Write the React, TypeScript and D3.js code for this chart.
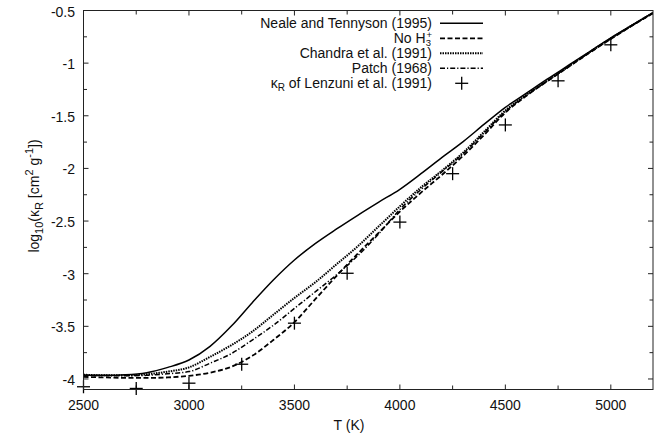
import React from "react";
import * as d3 from "d3";

const temps = [2500, 2600, 2700, 2800, 2900, 3000, 3100, 3200, 3300, 3400, 3500, 3600, 3700, 3800, 3900, 4000, 4100, 4200, 4300, 4400, 4500, 4600, 4700, 4800, 4900, 5000, 5100, 5200];

const nealeTennyson = [-3.965, -3.965, -3.96, -3.94, -3.89, -3.82, -3.69, -3.5, -3.275, -3.06, -2.87, -2.712, -2.575, -2.445, -2.32, -2.198, -2.05, -1.895, -1.745, -1.58, -1.42, -1.285, -1.15, -1.02, -0.89, -0.76, -0.64, -0.52];
const noH3 = [-3.98, -3.985, -3.99, -3.99, -3.985, -3.97, -3.94, -3.885, -3.78, -3.63, -3.46, -3.24, -3.02, -2.81, -2.61, -2.41, -2.23, -2.06, -1.88, -1.68, -1.47, -1.31, -1.17, -1.035, -0.9, -0.77, -0.645, -0.525];
const chandra = [-3.96, -3.965, -3.965, -3.955, -3.93, -3.89, -3.79, -3.68, -3.55, -3.39, -3.23, -3.08, -2.91, -2.74, -2.55, -2.36, -2.18, -2.02, -1.85, -1.65, -1.45, -1.3, -1.165, -1.03, -0.895, -0.765, -0.642, -0.523];
const patch = [-3.965, -3.968, -3.97, -3.965, -3.95, -3.93, -3.85, -3.76, -3.63, -3.49, -3.33, -3.17, -3.01, -2.83, -2.62, -2.39, -2.2, -2.03, -1.86, -1.66, -1.46, -1.305, -1.168, -1.032, -0.897, -0.767, -0.643, -0.524];

const lenzuniT = [2500, 2750, 3000, 3250, 3500, 3750, 4000, 4250, 4500, 4750, 5000];
const lenzuniK = [-4.074, -4.09, -4.04, -3.86, -3.47, -2.996, -2.51, -2.05, -1.587, -1.168, -0.826];

const xTickLabels = [2500, 3000, 3500, 4000, 4500, 5000];
const xMinorTicks = [2750, 3250, 3750, 4250, 4750];
const yTickLabels = [-4, -3.5, -3, -2.5, -2, -1.5, -1, -0.5];
const yMinorTicks = [-3.75, -3.25, -2.75, -2.25, -1.75, -1.25, -0.75];

const FONT = "'Liberation Sans', Arial, Helvetica, sans-serif";

export default function App() {
  const W = 662, H = 440;
  const left = 83.5, right = 653, top = 10.5, bottom = 389.5;
  const x = d3.scaleLinear().domain([2500, 5200]).range([left, right]);
  const y = d3.scaleLinear().domain([-4.1, -0.5]).range([bottom, top]);

  const line = d3
    .line<[number, number]>()
    .x((d) => x(d[0]))
    .y((d) => y(d[1]))
    .curve(d3.curveMonotoneX);

  const DOT = "1.5,1";
  const series = [
    { name: "nt", vals: nealeTennyson, dash: undefined as string | undefined, w: 1.5 },
    { name: "noh3", vals: noH3, dash: "5,2.5", w: 1.8 },
    { name: "chandra", vals: chandra, dash: DOT, w: 2 },
    { name: "patch", vals: patch, dash: "5,2,1.2,2", w: 1.5 },
  ];

  const legendRows = [
    { label: <>Neale and Tennyson (1995)</>, dash: undefined as string | undefined, w: 1.5, plus: false },
    {
      label: (
        <>
          No H<tspan dy="2.5" fontSize="9.5">3</tspan>
          <tspan dx="-4.5" dy="-7.5" fontSize="9.5">+</tspan>
        </>
      ),
      dash: "5,2.5",
      w: 1.8,
      plus: false,
    },
    { label: <>Chandra et al. (1991)</>, dash: DOT, w: 2, plus: false },
    { label: <>Patch (1968)</>, dash: "5,2,1.2,2", w: 1.5, plus: false },
    {
      label: (
        <>
          κ<tspan dy="3" fontSize="10">R</tspan>
          <tspan dy="-3"> of Lenzuni et al. (1991)</tspan>
        </>
      ),
      dash: undefined,
      w: 1.3,
      plus: true,
    },
  ];

  const P = 6.5;

  return (
    <svg width={W} height={H} style={{ display: "block", position: "absolute", left: 0, top: 0, background: "#fff" }} fontFamily={FONT}>
      <defs>
        <clipPath id="plotclip">
          <rect x={left} y={top} width={right - left} height={bottom - top} />
        </clipPath>
      </defs>
      <rect x={0} y={0} width={W} height={H} fill="#fff" />

      {/* ticks */}
      <g stroke="#222" strokeWidth={1}>
        {xTickLabels.map((t) => (
          <g key={"xt" + t}>
            <line x1={x(t)} x2={x(t)} y1={bottom} y2={bottom - 5} />
            <line x1={x(t)} x2={x(t)} y1={top} y2={top + 5} />
          </g>
        ))}
        {xMinorTicks.map((t) => (
          <g key={"xm" + t}>
            <line x1={x(t)} x2={x(t)} y1={bottom} y2={bottom - 4} />
            <line x1={x(t)} x2={x(t)} y1={top} y2={top + 4} />
          </g>
        ))}
        {yTickLabels.map((t) => (
          <g key={"yt" + t}>
            <line x1={left} x2={left + 5} y1={y(t)} y2={y(t)} />
            <line x1={right} x2={right - 5} y1={y(t)} y2={y(t)} />
          </g>
        ))}
        {yMinorTicks.map((t) => (
          <g key={"ym" + t}>
            <line x1={left} x2={left + 3.5} y1={y(t)} y2={y(t)} />
            <line x1={right} x2={right - 3.5} y1={y(t)} y2={y(t)} />
          </g>
        ))}
      </g>

      {/* tick labels */}
      <g fontSize={14} fill="#111">
        {xTickLabels.map((t) => (
          <text key={"xl" + t} x={x(t)} y={410} textAnchor="middle">
            {t}
          </text>
        ))}
        {yTickLabels.map((t) => (
          <text key={"yl" + t} x={75} y={y(t) + 6} textAnchor="end">
            {t}
          </text>
        ))}
      </g>

      {/* axis titles */}
      <text x={349} y={430} fontSize={14} textAnchor="middle" fill="#111">
        T (K)
      </text>
      <text transform={`translate(39,${(top + bottom) / 2 - 4}) rotate(-90)`} fontSize={14} textAnchor="middle" fill="#111">
        log<tspan dy="4" fontSize="11">10</tspan>
        <tspan dy="-4">(κ</tspan>
        <tspan dy="4" fontSize="11">R</tspan>
        <tspan dy="-4"> [cm</tspan>
        <tspan dy="-6" fontSize="11">2</tspan>
        <tspan dy="6"> g</tspan>
        <tspan dy="-6" fontSize="11">-1</tspan>
        <tspan dy="6">])</tspan>
      </text>

      {/* curves */}
      <g clipPath="url(#plotclip)" fill="none" stroke="#000">
        {series.map((s) => (
          <path
            key={s.name}
            d={line(temps.map((t, i) => [t, s.vals[i]] as [number, number])) || ""}
            strokeWidth={s.w}
            strokeDasharray={s.dash}
          />
        ))}
      </g>
      <g stroke="#000" strokeWidth={1.3}>
        {lenzuniT.map((t, i) => (
          <g key={"p" + t}>
            <line x1={x(t) - P} x2={x(t) + P} y1={y(lenzuniK[i])} y2={y(lenzuniK[i])} />
            <line x1={x(t)} x2={x(t)} y1={y(lenzuniK[i]) - P} y2={y(lenzuniK[i]) + P} />
          </g>
        ))}
      </g>

      {/* legend */}
      <g>
        {legendRows.map((r, i) => {
          const ly = 23.3 + i * 15;
          return (
            <g key={"lg" + i}>
              <text x={432} y={ly + 5} fontSize={14} textAnchor="end" fill="#111">
                {r.label}
              </text>
              {r.plus ? (
                <g stroke="#000" strokeWidth={1.3}>
                  <line x1={461.7 - P} x2={461.7 + P} y1={ly} y2={ly} />
                  <line x1={461.7} x2={461.7} y1={ly - P} y2={ly + P} />
                </g>
              ) : (
                <line x1={440} x2={483} y1={ly} y2={ly} stroke="#000" strokeWidth={r.w} strokeDasharray={r.dash} />
              )}
            </g>
          );
        })}
      </g>

      {/* frame */}
      <rect x={left} y={top} width={right - left} height={bottom - top} fill="none" stroke="#222" strokeWidth={1} />
    </svg>
  );
}
